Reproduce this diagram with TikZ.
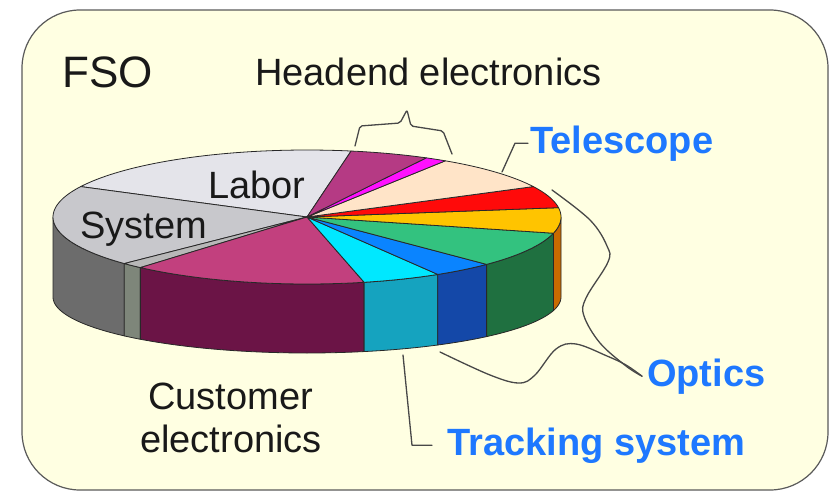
\documentclass[tikz,border=0pt]{standalone}
\usepackage{fontspec}
\setmainfont{Liberation Sans}

\definecolor{bgyellow}{RGB}{255,255,226}
\definecolor{framegray}{RGB}{90,90,90}
\definecolor{leadgray}{RGB}{72,72,72}
\definecolor{edgegray}{RGB}{40,40,40}
\definecolor{ink}{RGB}{25,25,25}
\definecolor{lblue}{RGB}{30,120,255}

% slice colours (top face / side wall)
\definecolor{laborTop}{RGB}{228,228,234}
\definecolor{systemTop}{RGB}{200,200,204}
\definecolor{systemWall}{RGB}{108,108,108}
\definecolor{thinTop}{RGB}{184,184,184}
\definecolor{thinWall}{RGB}{126,134,122}
\definecolor{custTop}{RGB}{194,64,126}
\definecolor{custWall}{RGB}{107,20,70}
\definecolor{cyanTop}{RGB}{0,232,255}
\definecolor{cyanWall}{RGB}{21,163,191}
\definecolor{blueTop}{RGB}{10,132,255}
\definecolor{blueWall}{RGB}{20,72,168}
\definecolor{greenTop}{RGB}{51,194,127}
\definecolor{greenWall}{RGB}{31,112,64}
\definecolor{goldTop}{RGB}{255,196,0}
\definecolor{goldWall}{RGB}{200,106,0}
\definecolor{redTop}{RGB}{255,10,10}
\definecolor{peachTop}{RGB}{255,228,200}
\definecolor{pinkTop}{RGB}{255,16,255}
\definecolor{headTop}{RGB}{181,58,132}

% top face of a slice between parameter angles #1 and #2
\newcommand\pietop[3]{%
  \filldraw[pieline, fill=#3] (0,0) --
    plot[domain=#1:#2, samples=40] ({254*cos(\x)},{-67*sin(\x)}) -- cycle;}
% front wall of a slice between parameter angles #1 and #2
% (the lower rim is drawn flatter, as in a perspective view)
\newcommand\piewall[3]{%
  \filldraw[pieline, fill=#3]
    plot[domain=#1:#2, samples=30] ({254*cos(\x)},{-67*sin(\x)}) --
    plot[domain=#2:#1, samples=30] ({254*cos(\x)},{80-56*sin(\x)}) -- cycle;}

\begin{document}
\begin{tikzpicture}[x=1pt,y=-1pt,
  leader/.style={draw=leadgray, line width=1.3pt, line cap=round, line join=round},
  pieline/.style={draw=edgegray, line width=0.8pt, line join=round},
  lbl/.style={anchor=base west, inner sep=0pt, text=ink, font=\fontsize{38}{44}\selectfont},
  blbl/.style={anchor=base west, inner sep=0pt, text=lblue, font=\fontsize{38}{44}\selectfont\bfseries}]

\useasboundingbox (0,0) rectangle (831,493);

% frame
\draw[fill=bgyellow, draw=framegray, line width=1.2pt, rounded corners=58pt]
  (22,10) rectangle (828,490);

% the pie
\begin{scope}[shift={(307,217)}]
  % side walls (front half)
  \piewall{180}{224}{systemWall}
  \piewall{224}{229}{thinWall}
  \piewall{229}{283}{custWall}
  \piewall{283}{301}{cyanWall}
  \piewall{301}{315}{blueWall}
  \piewall{315}{346}{greenWall}
  \piewall{346}{360}{goldWall}
  % top faces
  \pietop{80}{153}{laborTop}
  \pietop{153}{224}{systemTop}
  \pietop{224}{229}{thinTop}
  \pietop{229}{283}{custTop}
  \pietop{283}{301}{cyanTop}
  \pietop{301}{315}{blueTop}
  \pietop{315}{346}{greenTop}
  \pietop{346}{368}{goldTop}
  \pietop{8}{27}{redTop}
  \pietop{27}{57}{peachTop}
  \pietop{57}{62}{pinkTop}
  \pietop{62}{80}{headTop}
\end{scope}

% labels
\node[lbl, font=\fontsize{44}{50}\selectfont] (fso) at (62,87) {FSO};
\node[lbl] (head) at (255,85) {Headend electronics};
\node[lbl] (labor) at (208,198) {Labor};
\node[lbl] (system) at (80,238) {System};
\node[lbl] (cust1) at (148,409) {Customer};
\node[lbl] (cust2) at (140,452) {electronics};
\node[blbl] (tel) at (530,153) {Telescope};
\node[blbl] (opt) at (647,386) {Optics};
\node[blbl] (trk) at (447,455) {Tracking system};

% anchor points on the pie
\coordinate (telpt) at (502,172);
\coordinate (optA) at (552,190);
\coordinate (optB) at (440,352);
\coordinate (trkpt) at (403,355);

% brace over the headend slices
\draw[leader, rounded corners=2pt]
  (355,146) -- (360,126) -- (400,123) -- (407,110) -- (411,126) -- (443,131) -- (452,154);

% leader lines
\draw[leader] ([xshift=-2pt]tel.west) -- ++(-13,0) -- (telpt);
\draw[leader] plot[smooth, tension=0.6] coordinates
  {(optA) (590,220) (607,246) (608,262) (586,298) (584,316) (600,343) (626,366) ([xshift=-5pt]opt.west)};
\draw[leader] plot[smooth, tension=0.6] coordinates
  {(optB) (490,375) (519,383) (535,375) (556,349) (576,344) (607,356) (626,365) ([xshift=-5pt]opt.west)};
\draw[leader] ([xshift=-15pt]trk.west) -- ++(-20,0) -- (trkpt);
\end{tikzpicture}
\end{document}
